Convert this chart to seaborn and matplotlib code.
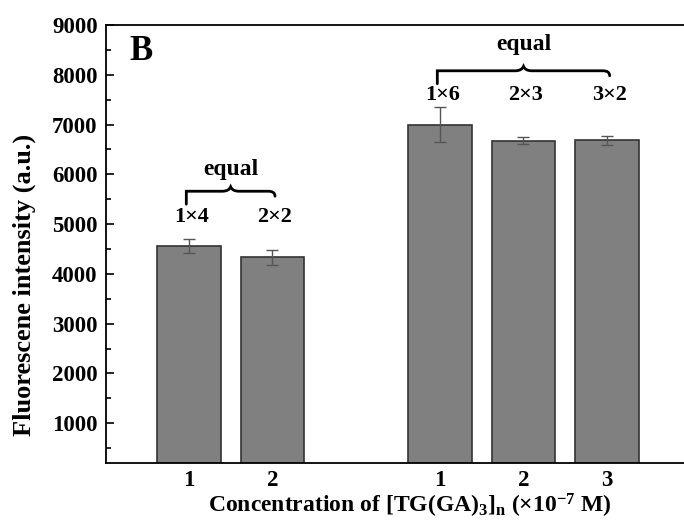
import matplotlib
matplotlib.use("Agg")
import matplotlib.pyplot as plt
from matplotlib.path import Path
from matplotlib.patches import PathPatch
from matplotlib.ticker import MultipleLocator
import seaborn as sns
import pandas as pd

# Fluorescence intensity for each [TG(GA)3]n concentration
slots = ["A1", "A2", "gap", "B1", "B2", "B3"]
bar_slots = ["A1", "A2", "B1", "B2", "B3"]
intensity = [4560, 4330, 7000, 6670, 6680]
errors = [150, 150, 360, 70, 95]
tick_labels = ["1", "2", "1", "2", "3"]
combo_labels = ["1\u00d74", "2\u00d72", "1\u00d76", "2\u00d73", "3\u00d72"]
groups = [["A1", "A2"], ["B1", "B2", "B3"]]

sns.set_theme(style="white")
plt.rcParams["font.family"] = ["Liberation Serif", "DejaVu Serif"]
plt.rcParams["font.weight"] = "bold"
plt.rcParams["text.color"] = "black"
plt.rcParams["axes.labelcolor"] = "black"
plt.rcParams["xtick.color"] = "black"
plt.rcParams["ytick.color"] = "black"
plt.rcParams["mathtext.fontset"] = "custom"
plt.rcParams["mathtext.rm"] = "Liberation Serif:bold"
plt.rcParams["mathtext.bf"] = "Liberation Serif:bold"
plt.rcParams["mathtext.it"] = "Liberation Serif:bold"

df = pd.DataFrame({"slot": bar_slots, "intensity": intensity})

fig = plt.figure(figsize=(6.84, 5.24), dpi=100)
ax = fig.add_axes([106 / 684, 61 / 524, 594 / 684, 438 / 524])

sns.barplot(data=df, x="slot", y="intensity", order=slots, errorbar=None,
            color="#808080", saturation=1, width=0.76,
            edgecolor="#333333", linewidth=1.2, ax=ax)

pos = {s: i for i, s in enumerate(slots)}
xs = [pos[s] for s in bar_slots]
ax.errorbar(xs, intensity, yerr=errors, fmt="none", ecolor="#555555",
            elinewidth=1.0, capsize=4, capthick=1.0, zorder=5)

ax.set_xlim(-0.99, 6.11)
ax.set_ylim(200, 9000)
ax.yaxis.set_minor_locator(MultipleLocator(500))
ax.set_yticks(range(1000, 9001, 1000))
ax.set_xticks(xs)
ax.set_xticklabels(tick_labels)

ax.tick_params(axis="y", which="major", direction="in", length=6, width=1.2,
               labelsize=16.5, pad=6, left=True, colors="black")
ax.tick_params(axis="y", which="minor", direction="in", length=3.5, width=1.2,
               left=True, colors="black")
ax.tick_params(axis="x", length=0, labelsize=16.5, pad=5, colors="black")
for lab in ax.get_xticklabels() + ax.get_yticklabels():
    lab.set_fontweight("bold")

for side in ["left", "top", "bottom"]:
    ax.spines[side].set_visible(True)
    ax.spines[side].set_color("black")
    ax.spines[side].set_linewidth(1.3)
ax.spines["right"].set_visible(False)

ax.set_ylabel("Fluorescene intensity (a.u.)", fontsize=19, fontweight="bold",
              va="center")
ax.yaxis.set_label_coords((24 - 106) / 594, (463 - 285) / 438)
ax.set_xlabel(r"Concentration of [TG(GA)$_{3}$]$_{n}$ (×10$^{-7}$ M)",
              fontsize=17, fontweight="bold", va="center")
ax.xaxis.set_label_coords((410 - 106) / 594, (463 - 506) / 438)

ax.text(0.04, 0.94, "B", transform=ax.transAxes, fontsize=25, fontweight="bold",
        ha="left", va="center")


def brace(ax, x0, x1, y, left_drop, right_drop, peak):
    xm = (x0 + x1) / 2
    verts = [
        (x0, y - left_drop), (x0, y), (x0, y), (x0 + 0.08, y),
        (xm - 0.1, y), (xm - 0.02, y), (xm, y + peak),
        (xm + 0.02, y), (xm + 0.1, y),
        (x1 - 0.08, y), (x1, y), (x1, y - right_drop),
    ]
    codes = [Path.MOVETO, Path.CURVE3, Path.CURVE3, Path.LINETO,
             Path.LINETO, Path.CURVE3, Path.CURVE3,
             Path.CURVE3, Path.CURVE3,
             Path.LINETO, Path.CURVE3, Path.CURVE3]
    ax.add_patch(PathPatch(Path(verts, codes), fill=False, lw=2.0,
                           edgecolor="black", capstyle="round", zorder=6))


label_y = [5140, 7600]
brace_y = [5660, 8080]
equal_y = [6100, 8600]
for g, ly, by, ey in zip(groups, label_y, brace_y, equal_y):
    gx = [pos[s] for s in g]
    brace(ax, gx[0] - 0.03, gx[-1] + 0.03, by, 260, 100, 90)
    ax.text((gx[0] + gx[-1]) / 2, ey, "equal", ha="center", va="center",
            fontsize=17, fontweight="bold")
    for s in g:
        i = bar_slots.index(s)
        ax.text(pos[s] + 0.03, ly, combo_labels[i], ha="center", va="center",
                fontsize=16, fontweight="bold")

fig.savefig("out.png", dpi=100)
